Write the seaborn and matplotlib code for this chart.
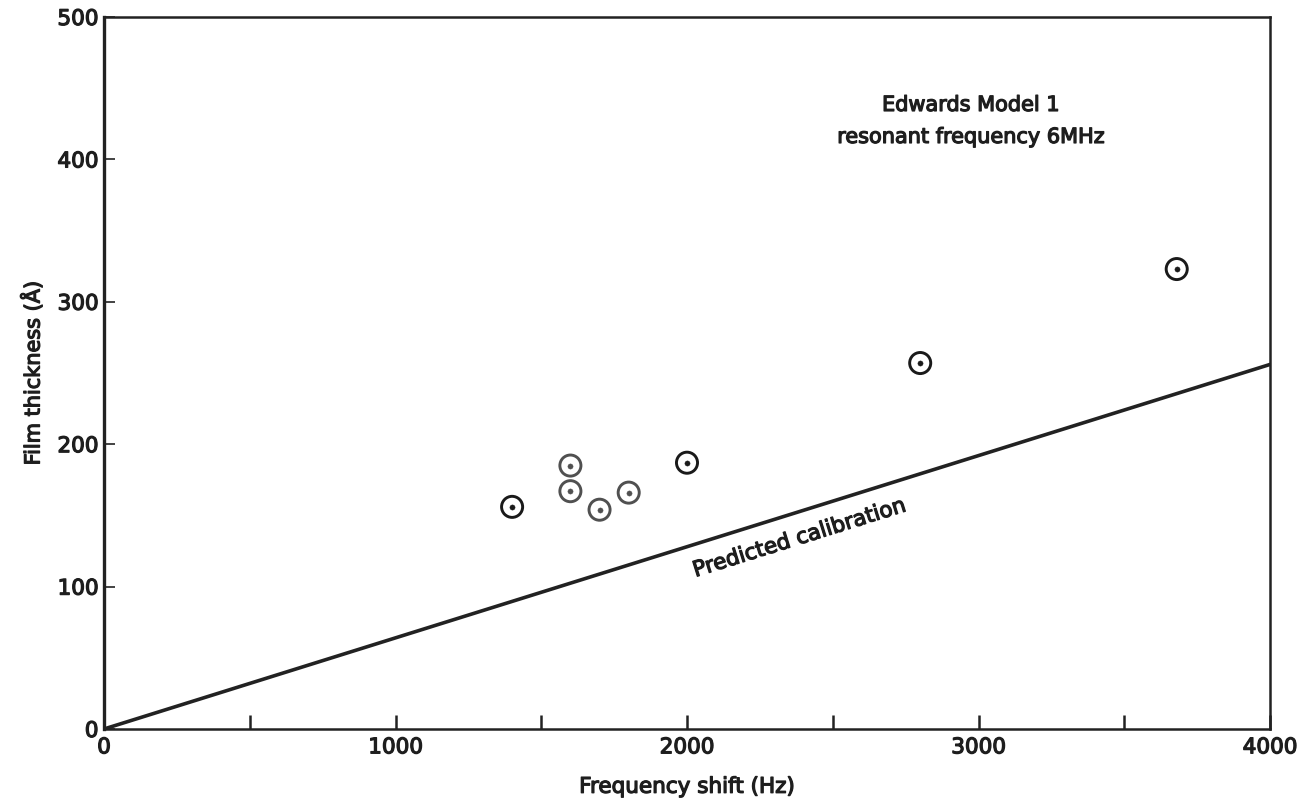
import matplotlib
matplotlib.use("Agg")
import matplotlib.pyplot as plt
import matplotlib.patheffects as pe
import seaborn as sns
import pandas as pd
import numpy as np

# Data
freq_dark = [1400, 2000, 2800, 3680]
thick_dark = [156, 187, 257, 323]
freq_grey = [1600, 1600, 1700, 1800]
thick_grey = [185, 167, 154, 166]
calib_freq = [0, 4000]
calib_thick = [0, 256]

x_ticks = [0, 1000, 2000, 3000, 4000]
x_minor = [500, 1500, 2500, 3500]
y_ticks = [0, 100, 200, 300, 400, 500]

sns.set_theme(style="white")
plt.rcParams['font.family'] = ['DejaVu Sans']
TC = "#1e1e1e"
PE = [pe.withStroke(linewidth=0.9, foreground=TC)]

fig = plt.figure(figsize=(13.14, 8.04), dpi=100)
ax = fig.add_axes([104/1314, 1 - 730/804, (1270-104)/1314, (730-18)/804])

df_line = pd.DataFrame({"f": calib_freq, "t": calib_thick})
sns.lineplot(data=df_line, x="f", y="t", ax=ax, color="#222222", linewidth=2.6)

df_dark = pd.DataFrame({"f": freq_dark, "t": thick_dark})
df_grey = pd.DataFrame({"f": freq_grey, "t": thick_grey})
for d, c in [(df_dark, "#1a1a1a"), (df_grey, "#505050")]:
    sns.scatterplot(data=d, x="f", y="t", ax=ax, s=230, marker="o",
                    facecolors="none", edgecolor=c, linewidth=2.1, zorder=3)
    sns.scatterplot(data=d, x="f", y="t", ax=ax, s=14, marker="o",
                    color=c, edgecolor=c, zorder=4)

ax.set_xlim(0, 4000)
ax.set_ylim(0, 500)
ax.set_xticks(x_ticks)
ax.set_xticks(x_minor, minor=True)
ax.set_yticks(y_ticks)
ax.set_xticklabels([str(v) for v in x_ticks], fontsize=15.5, color=TC,
                   path_effects=PE)
ax.set_yticklabels([str(v) for v in y_ticks], fontsize=15.5, color=TC,
                   path_effects=PE)
ax.tick_params(axis="x", which="both", direction="in", length=10, width=1.8,
               bottom=True, pad=6, colors="#222222")
ax.tick_params(axis="y", which="both", direction="in", length=8, width=1.2,
               left=True, pad=4, colors="#222222")
for lab in ax.get_xticklabels() + ax.get_yticklabels():
    lab.set_color(TC)
for s in ax.spines.values():
    s.set_visible(True)
    s.set_color("#222222")
    s.set_linewidth(1.8)
ax.spines["left"].set_linewidth(2.4)

ax.set_xlabel("Frequency shift (Hz)", fontsize=15.5, color=TC, labelpad=14,
              path_effects=PE)
ax.set_ylabel("Film thickness (Å)", fontsize=15, color=TC, labelpad=10,
              path_effects=PE)

ax.text(2974, 427, "Edwards Model 1\nresonant frequency 6MHz", ha="center",
        va="center", fontsize=15, color=TC, linespacing=1.75, path_effects=PE)

# angle of calibration line in display coords
p0 = ax.transData.transform((calib_freq[0], calib_thick[0]))
p1 = ax.transData.transform((calib_freq[1], calib_thick[1]))
ang = np.degrees(np.arctan2(p1[1]-p0[1], p1[0]-p0[0]))
ax.text(2385, 134, "Predicted calibration", rotation=ang, ha="center",
        va="center", fontsize=15.5, color=TC, rotation_mode="anchor",
        path_effects=PE)

fig.savefig("out.png", dpi=100, facecolor="white")
